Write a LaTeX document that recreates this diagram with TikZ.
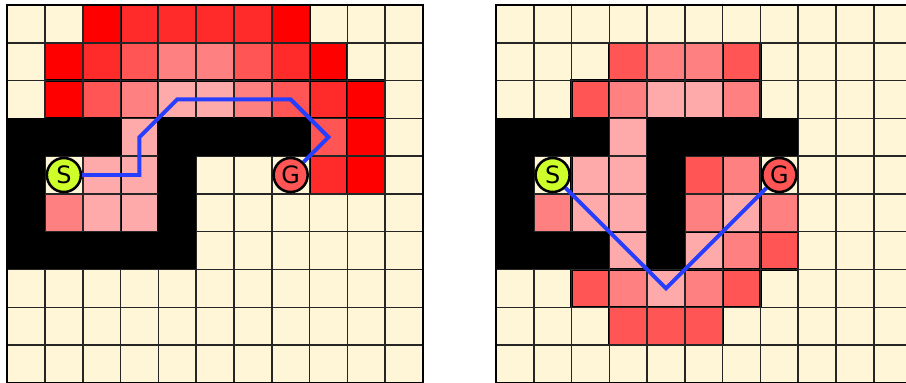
\documentclass[tikz,border=0pt]{standalone}
\usepackage{fontspec}
\setsansfont{DejaVu Sans}
\usetikzlibrary{positioning}
\definecolor{cream}{RGB}{255,245,215}
\definecolor{redA}{RGB}{255,0,0}
\definecolor{redB}{RGB}{255,42,42}
\definecolor{redC}{RGB}{255,85,85}
\definecolor{redD}{RGB}{255,128,128}
\definecolor{redE}{RGB}{255,170,170}
\definecolor{startgreen}{RGB}{206,255,42}
\definecolor{routeblue}{RGB}{38,62,255}

\begin{document}
\begin{tikzpicture}[
  x=1cm,y=-1cm,
  font=\sffamily,
  heat/.style={draw=black,line width=1.6pt},
  wall/.style={fill=black},
  gridline/.style={draw=black!85,line width=1.2pt},
  frame/.style={draw=black,line width=1.7pt},
  marker/.style={circle,draw=black,line width=1.9pt,minimum size=0.9cm,inner sep=0pt,font=\sffamily\fontsize{18}{18}\selectfont},
  route/.style={routeblue,line width=3pt},
]
\useasboundingbox (0,0) rectangle (23.97,10.13);

% left grid
\begin{scope}[shift={(0.19,0.13)}]
  \fill[cream] (0,0) rectangle (11,10);
  \foreach \c/\r/\k in {2/0/redA,3/0/redB,4/0/redB,5/0/redB,6/0/redB,7/0/redA,
      1/1/redA,2/1/redB,3/1/redC,4/1/redD,5/1/redD,6/1/redC,7/1/redB,8/1/redA,
      1/2/redA,2/2/redC,3/2/redD,4/2/redE,5/2/redE,6/2/redD,7/2/redC,8/2/redB,9/2/redA,
      3/3/redE,8/3/redC,9/3/redA,2/4/redE,3/4/redE,8/4/redB,9/4/redA,
      1/5/redD,2/5/redE,3/5/redE}
    \filldraw[heat,fill=\k] (\c,\r) rectangle ++(1,1);
  \draw[gridline] (0,0) grid (11,10);
  \foreach \c/\r in {0/3,1/3,2/3,4/3,5/3,6/3,7/3,0/4,4/4,0/5,4/5,0/6,1/6,2/6,3/6,4/6}
    \fill[wall] (\c,\r) rectangle ++(1,1);
  \draw[frame] (0,0) rectangle (11,10);

  \node[marker,fill=startgreen] (startL) at (1.5,4.5) {S};
  \node[marker,fill=redC] (goalL) at (7.5,4.5) {G};
  \coordinate (l1) at (3.5,4.5);
  \coordinate (l2) at (3.5,3.5);
  \coordinate (l3) at (4.5,2.5);
  \coordinate (l4) at (7.5,2.5);
  \coordinate (l5) at (8.5,3.5);
  \draw[route] (startL) -- (l1) -- (l2) -- (l3) -- (l4) -- (l5) -- (goalL);
\end{scope}

% right grid
\begin{scope}[shift={(13.12,0.13)}]
  \fill[cream] (0,0) rectangle (11,10);
  \foreach \c/\r/\k in {3/1/redC,4/1/redD,5/1/redD,6/1/redC,
      2/2/redC,3/2/redD,4/2/redE,5/2/redE,6/2/redD,
      3/3/redE,2/4/redE,3/4/redE,5/4/redC,6/4/redD,
      1/5/redD,2/5/redE,3/5/redE,5/5/redD,6/5/redE,7/5/redD,
      3/6/redE,5/6/redE,6/6/redD,7/6/redC,
      2/7/redC,3/7/redD,4/7/redE,5/7/redD,6/7/redC,
      3/8/redC,4/8/redC,5/8/redC}
    \filldraw[heat,fill=\k] (\c,\r) rectangle ++(1,1);
  \draw[gridline] (0,0) grid (11,10);
  \foreach \c/\r in {0/3,1/3,2/3,4/3,5/3,6/3,7/3,0/4,4/4,0/5,4/5,0/6,1/6,2/6,4/6}
    \fill[wall] (\c,\r) rectangle ++(1,1);
  \draw[frame] (0,0) rectangle (11,10);

  \node[marker,fill=startgreen] (startR) at (1.5,4.5) {S};
  \node[marker,fill=redC] (goalR) at (7.5,4.5) {G};
  \coordinate (r1) at (4.5,7.5);
  \draw[route] (startR) -- (r1) -- (goalR);
\end{scope}
\end{tikzpicture}
\end{document}
